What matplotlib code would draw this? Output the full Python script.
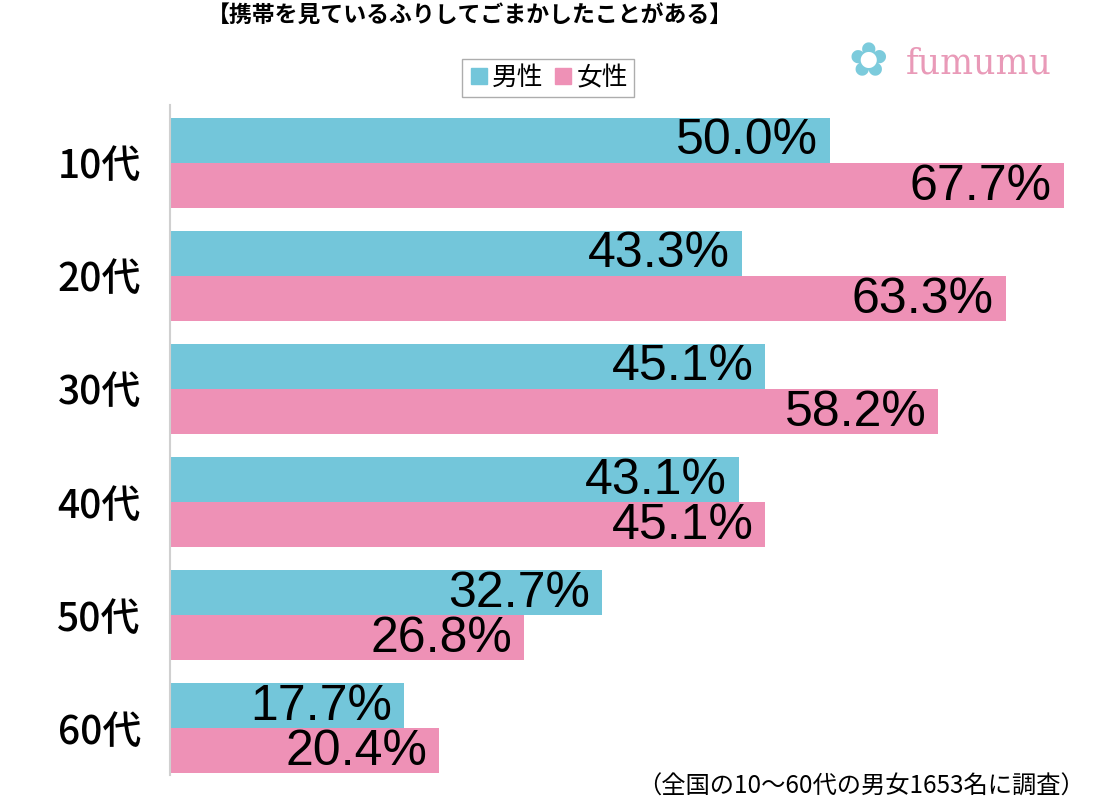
import matplotlib.pyplot as plt
from matplotlib.lines import Line2D
import numpy as np

plt.rcParams["font.family"] = ["Noto Sans CJK JP", "DejaVu Sans"]

ages = ["10代", "20代", "30代", "40代", "50代", "60代"]
male = [50.0, 43.3, 45.1, 43.1, 32.7, 17.7]
female = [67.7, 63.3, 58.2, 45.1, 26.8, 20.4]

blue = "#73c6da"
pink = "#ee91b6"

fig = plt.figure(figsize=(11.02, 8), dpi=100)
ax = fig.add_axes([170 / 1102, 0.03125, 1 - 170 / 1102, 0.8375])

y = np.arange(len(ages))
h = 0.4
ax.barh(y - h / 2, male, height=h, color=blue)
ax.barh(y + h / 2, female, height=h, color=pink)

for i in range(len(ages)):
    ax.text(male[i] - 0.9, y[i] - h / 2 + 0.01, f"{male[i]:.1f}%", ha="right", va="center",
            fontsize=36, family="Liberation Sans", color="black")
    ax.text(female[i] - 0.9, y[i] + h / 2 + 0.01, f"{female[i]:.1f}%", ha="right", va="center",
            fontsize=36, family="Liberation Sans", color="black")

ax.set_xlim(0, 932 / 13.2)
ax.set_ylim(5.415, -0.512)
ax.set_yticks(y)
ax.set_yticklabels(ages, fontsize=28, fontweight="medium")
ax.tick_params(axis="y", length=0, pad=21)
ax.set_xticks([])
for s in ["top", "right", "bottom"]:
    ax.spines[s].set_visible(False)
ax.spines["left"].set_color("#d0d0d0")
ax.spines["left"].set_linewidth(1.5)

fig.text(470 / 1102, 1 - 16 / 800, "【携帯を見ているふりしてごまかしたことがある】",
         ha="center", va="center", fontsize=16.5, fontweight="bold")

handles = [Line2D([], [], marker="s", linestyle="none", markersize=11, color=blue),
           Line2D([], [], marker="s", linestyle="none", markersize=11, color=pink)]
fig.legend(handles, ["男性", "女性"], loc="center", bbox_to_anchor=(548 / 1102, 1 - 78 / 800),
           ncol=2, fontsize=18.5, frameon=True, fancybox=False, edgecolor="#999999",
           handletextpad=0.1, columnspacing=0.4, handlelength=0.8, borderpad=0.25)

fig.text(906 / 1102, 1 - 64 / 800, "fumumu", ha="left", va="center", fontsize=25,
         family="DejaVu Serif", color="#e99ab8")
fig.text(868 / 1102, 1 - 64 / 800, "✿", ha="center", va="center", fontsize=34,
         family="DejaVu Sans", color="#7ccbdc")

fig.text(1085 / 1102, 1 - 787 / 800, "（全国の10～60代の男女1653名に調査）", ha="right", va="center",
         fontsize=17.5)

fig.savefig("out.png", dpi=100)
